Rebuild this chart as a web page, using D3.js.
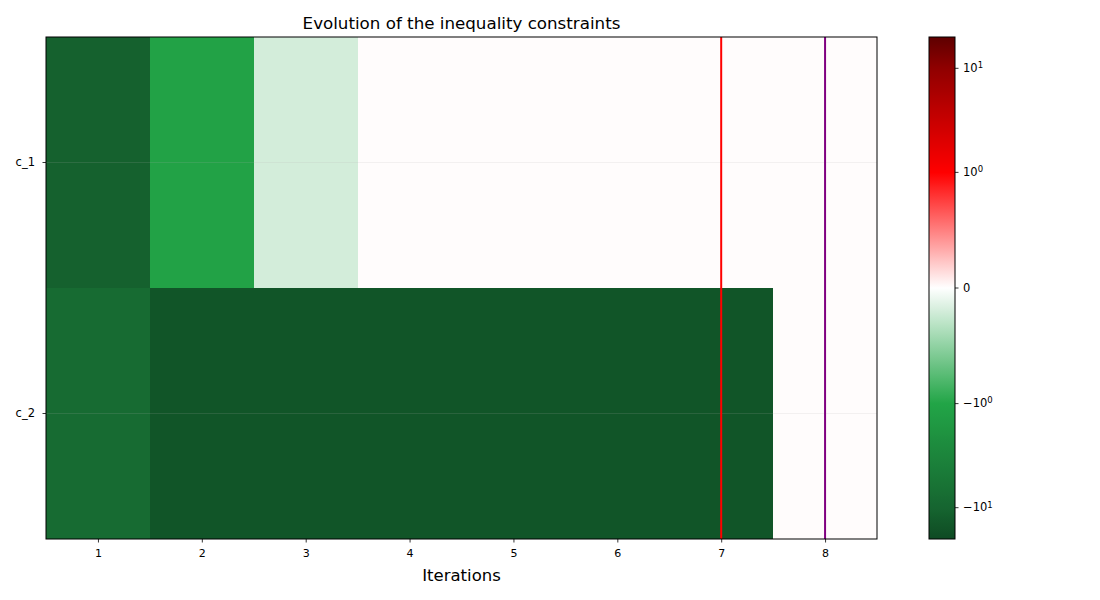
<!DOCTYPE html>
<html>
<head>
    <script src="https://cdn.jsdelivr.net/npm/d3@7"></script>
    <style>
        body { margin: 0; background: #fff; }
        text { font-family: "DejaVu Sans", sans-serif; fill: #000; }
    </style>
</head>
<body>
<div id="chart"></div>

<script>

    var constraints = ['c_1', 'c_2'];
    var iterations = [1, 2, 3, 4, 5, 6, 7, 8];
    var c1Values = [-11, -1.1, -0.2, 0.01, 0.01, 0.01, 0.01, 0.01];
    var c2Values = [-8, -15, -15, -15, -15, -15, -15, 0.01];
    var colorbarTicks = [-10, -1, 0, 1, 10];
    var colorbarTickLabels = [['\u221210', '1'], ['\u221210', '0'], ['0', ''], ['10', '0'], ['10', '1']];
    var markerLines = [{ x: 7, color: 'red' }, { x: 8, color: 'purple' }];

    var width = 1100, height = 600;
    var plot = { left: 46, right: 877, top: 37, bottom: 539 };
    var cbar = { left: 929, right: 955 };

    var svg = d3.select('#chart').append('svg')
        .attr('width', width)
        .attr('height', height);

    var xScale = d3.scaleLinear()
        .domain([0.5, 8.5])
        .range([plot.left, plot.right]);

    var yScale = d3.scaleBand()
        .domain(constraints)
        .range([plot.top, plot.bottom]);

    // symlog like matplotlib, linthresh 1, linscale 1
    var linPart = 1 / (1 - 1 / 10);
    function symlog(v) {
        var a = Math.abs(v);
        if (a <= 1) return v * linPart;
        return Math.sign(v) * (linPart + Math.log10(a));
    }
    var vmin = -20, vmax = 20;
    var norm = d3.scaleLinear().domain([symlog(vmin), symlog(vmax)]).range([0, 1]);

    // colour stops at the colorbar values
    var stopValues = [-20, -10, -1, 0, 1, 10, 20];
    var stopColors = ['#0e4a23', '#166530', '#22a547', '#ffffff', '#ff0000', '#900000', '#5e0000'];
    var cmap = d3.scaleLinear()
        .domain(stopValues.map(function(v) { return norm(symlog(v)); }))
        .range(stopColors)
        .interpolate(d3.interpolateRgb);

    function colorOf(v) { return cmap(norm(symlog(v))); }

    var rows = [c1Values, c2Values];
    var cells = [];
    rows.forEach(function(vals, r) {
        vals.forEach(function(v, i) {
            cells.push({ row: constraints[r], it: iterations[i], value: v });
        });
    });

    svg.append('g').selectAll('rect')
        .data(cells)
        .enter()
        .append('rect')
        .attr('x', function(d) { return xScale(d.it - 0.5); })
        .attr('width', function(d) { return xScale(d.it + 0.5) - xScale(d.it - 0.5); })
        .attr('y', function(d) { return yScale(d.row); })
        .attr('height', yScale.bandwidth())
        .attr('fill', function(d) { return colorOf(d.value); })
        .attr('shape-rendering', 'crispEdges');

    // faint horizontal grid
    svg.append('g').selectAll('line')
        .data(constraints)
        .enter()
        .append('line')
        .attr('x1', plot.left)
        .attr('x2', plot.right)
        .attr('y1', function(d) { return yScale(d) + yScale.bandwidth() / 2; })
        .attr('y2', function(d) { return yScale(d) + yScale.bandwidth() / 2; })
        .attr('stroke', '#b0b0b0')
        .attr('stroke-opacity', 0.2)
        .attr('stroke-width', 0.8);

    svg.append('g').selectAll('line')
        .data(markerLines)
        .enter()
        .append('line')
        .attr('x1', function(d) { return xScale(d.x); })
        .attr('x2', function(d) { return xScale(d.x); })
        .attr('y1', plot.top)
        .attr('y2', plot.bottom)
        .attr('stroke', function(d) { return d.color; })
        .attr('stroke-width', 2);

    // axes
    var xAxis = d3.axisBottom(xScale).tickValues(iterations).tickSizeOuter(0).tickSize(3.5).tickPadding(6.5);
    var gx = svg.append('g')
        .attr('transform', 'translate(0,' + plot.bottom + ')')
        .call(xAxis);
    gx.select('.domain').remove();
    gx.selectAll('text').style('font-size', '11px').attr('font-family', 'DejaVu Sans');
    gx.selectAll('line').attr('stroke-width', 0.8);

    var yAxis = d3.axisLeft(yScale).tickSizeOuter(0).tickSize(3.5).tickPadding(7.5);
    var gy = svg.append('g')
        .attr('transform', 'translate(' + plot.left + ',0)')
        .call(yAxis);
    gy.select('.domain').remove();
    gy.selectAll('text').style('font-size', '11.5px').attr('font-family', 'DejaVu Sans');
    gy.selectAll('line').attr('stroke-width', 0.8);

    svg.append('rect')
        .attr('x', plot.left)
        .attr('y', plot.top)
        .attr('width', plot.right - plot.left)
        .attr('height', plot.bottom - plot.top)
        .attr('fill', 'none')
        .attr('stroke', 'black')
        .attr('stroke-width', 1);

    svg.append('text')
        .attr('x', (plot.left + plot.right) / 2)
        .attr('y', 29)
        .attr('text-anchor', 'middle')
        .style('font-size', '16.7px')
        .text('Evolution of the inequality constraints');

    svg.append('text')
        .attr('x', (plot.left + plot.right) / 2)
        .attr('y', 581)
        .attr('text-anchor', 'middle')
        .style('font-size', '16.5px')
        .text('Iterations');

    // colorbar
    var cbScale = d3.scaleLinear()
        .domain([symlog(vmin), symlog(vmax)])
        .range([plot.bottom, plot.top]);

    var grad = svg.append('defs').append('linearGradient')
        .attr('id', 'cbgrad')
        .attr('x1', 0).attr('y1', 1).attr('x2', 0).attr('y2', 0);
    grad.selectAll('stop')
        .data(d3.range(0, 1.0001, 0.01))
        .enter()
        .append('stop')
        .attr('offset', function(d) { return d; })
        .attr('stop-color', function(d) { return cmap(d); });

    svg.append('rect')
        .attr('x', cbar.left)
        .attr('y', plot.top)
        .attr('width', cbar.right - cbar.left)
        .attr('height', plot.bottom - plot.top)
        .attr('fill', 'url(#cbgrad)')
        .attr('stroke', 'black')
        .attr('stroke-width', 1);

    var cbTicks = svg.append('g').selectAll('g')
        .data(colorbarTicks)
        .enter()
        .append('g')
        .attr('transform', function(d) { return 'translate(' + cbar.right + ',' + cbScale(symlog(d)) + ')'; });
    cbTicks.append('line')
        .attr('x2', 3.5)
        .attr('stroke', 'black')
        .attr('stroke-width', 0.8);
    var cbText = cbTicks.append('text')
        .attr('x', 8)
        .attr('dy', '0.32em')
        .style('font-size', '11.5px');
    cbText.append('tspan')
        .text(function(d, i) { return colorbarTickLabels[i][0]; });
    cbText.append('tspan')
        .attr('dy', '-0.45em')
        .style('font-size', '8.5px')
        .text(function(d, i) { return colorbarTickLabels[i][1]; });

</script>
</body>
</html>
